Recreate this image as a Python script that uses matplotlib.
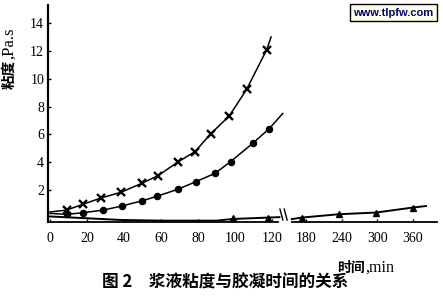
import numpy as np
import matplotlib
matplotlib.use("Agg")
import matplotlib.pyplot as plt

# ---------------------------------------------------------------------------
# data (time in min, viscosity in Pa.s)
cross_t = [9.0, 17.7, 27.4, 38.2, 49.6, 58.5, 69.4, 78.4, 87.0, 96.9, 106.3, 117.1]
cross_v = [0.56, 0.97, 1.42, 1.83, 2.48, 3.04, 4.04, 4.76, 6.06, 7.32, 9.24, 12.07]
cross_line_t = [0.0] + cross_t + [119.5]
cross_line_v = [0.42] + cross_v + [13.0]

dot_t = [9.0, 18.0, 28.8, 38.8, 50.0, 57.8, 69.0, 78.9, 89.2, 97.6, 109.6, 118.5]
dot_v = [0.25, 0.37, 0.56, 0.85, 1.23, 1.55, 2.05, 2.60, 3.20, 4.04, 5.36, 6.41]
dot_line_t = [0.0] + dot_t + [125.8]
dot_line_v = [0.32] + dot_v + [7.5]

tri_t = [99.0, 118.0, 172.8, 235.4, 297.4, 359.7]
tri_v = [-0.03, 0.02, 0.02, 0.26, 0.38, 0.74]
tri_left_t = [0.0, 38.0, 60.0, 90.0, 99.0, 118.0, 124.0]
tri_left_v = [0.10, -0.15, -0.20, -0.20, -0.08, 0.02, 0.05]
tri_right_t = [156.0, 172.8, 235.4, 297.4, 359.7, 382.0]
tri_right_v = [-0.09, 0.02, 0.26, 0.38, 0.74, 0.85]

xticks_t = [0, 20, 40, 60, 80, 100, 120, 180, 240, 300, 360]
yticks = [2, 4, 6, 8, 10, 12, 14]


def pos(t):
    """broken time axis: 0-120 linear, after the break 60 min ~ 19 units"""
    t = np.asarray(t, dtype=float)
    return np.where(t <= 130, t, 138.4 + (t - 180) * 0.321)


W, H = 443, 298
fig = plt.figure(figsize=(W / 100, H / 100), dpi=100)
ax = fig.add_axes([48.3 / W, 1 - 222.3 / H, (437 - 48.3) / W, (222.3 - 5) / H])
ax.set_xlim(-0.92, 209.2)
ax.set_ylim(-0.32, 15.3)

lw = 1.1
ax.plot(pos(cross_line_t), cross_line_v, color="black", lw=lw)
ax.plot(pos(cross_t), cross_v, ls="none", marker="x", ms=6, mew=1.7, color="black")

ax.plot(pos(dot_line_t), dot_line_v, color="black", lw=lw)
ax.plot(pos(dot_t), dot_v, ls="none", marker="o", ms=4.4, color="black")

ax.plot(pos(tri_left_t), tri_left_v, color="black", lw=1.4, clip_on=False)
ax.plot(pos(tri_right_t), tri_right_v, color="black", lw=1.4, clip_on=False)
ax.plot(pos(tri_t), tri_v, ls="none", marker="^", ms=5, color="black", clip_on=False)

# axes / spines
for s in ("top", "right", "bottom"):
    ax.spines[s].set_visible(False)
ax.spines["left"].set_linewidth(1.6)
y0 = ax.get_ylim()[0]
ax.plot([-0.92, 123.0], [y0, y0], color="black", lw=1.3, clip_on=False)
ax.plot([131.0, 209.2], [y0, y0], color="black", lw=1.3, clip_on=False)
# break marks
ax.plot([124.3, 125.9], [0.63, -0.16], color="black", lw=1.0, clip_on=False)
ax.plot([126.6, 128.2], [0.63, -0.16], color="black", lw=1.0, clip_on=False)

serif = "Liberation Serif"
ax.set_xticks(pos(xticks_t))
ax.set_xticklabels([str(t) for t in xticks_t], fontfamily=serif, fontsize=10)
ax.set_yticks(yticks)
ax.set_yticklabels([str(v) for v in yticks], fontfamily=serif, fontsize=10)
ax.tick_params(axis="x", direction="in", length=2, width=1, pad=7)
ax.tick_params(axis="y", direction="in", length=2.5, width=1, pad=3)

cjk = "Noto Sans CJK SC"
# y label
fig.text(9 / W, 1 - 60 / H, "粘度", rotation=90, ha="center", va="top",
         family=cjk, fontweight="bold", fontsize=10.5)
fig.text(9 / W, 1 - 59 / H, ",Pa.s", rotation=90, ha="center", va="bottom",
         family=serif, fontsize=12)
# x label
fig.text(365 / W, 1 - 268 / H, "时间", ha="right", va="center",
         family=cjk, fontweight="bold", fontsize=10)
fig.text(365 / W, 1 - 268 / H, ",min", ha="left", va="center",
         family=serif, fontsize=11.5)
# caption
fig.text(225 / W, 1 - 283 / H, "图 2　浆液粘度与胶凝时间的关系", ha="center", va="center",
         family=cjk, fontweight="bold", fontsize=12)

# watermark box
fig.text(393.5 / W, 1 - 12.5 / H, "www.tlpfw.com", ha="center", va="center",
         family="Liberation Sans", fontweight="bold", fontsize=8, color="#000080",
         bbox=dict(boxstyle="square,pad=0.3", facecolor="#ffffe8", edgecolor="black", lw=1))

fig.savefig("out.png", dpi=100)
